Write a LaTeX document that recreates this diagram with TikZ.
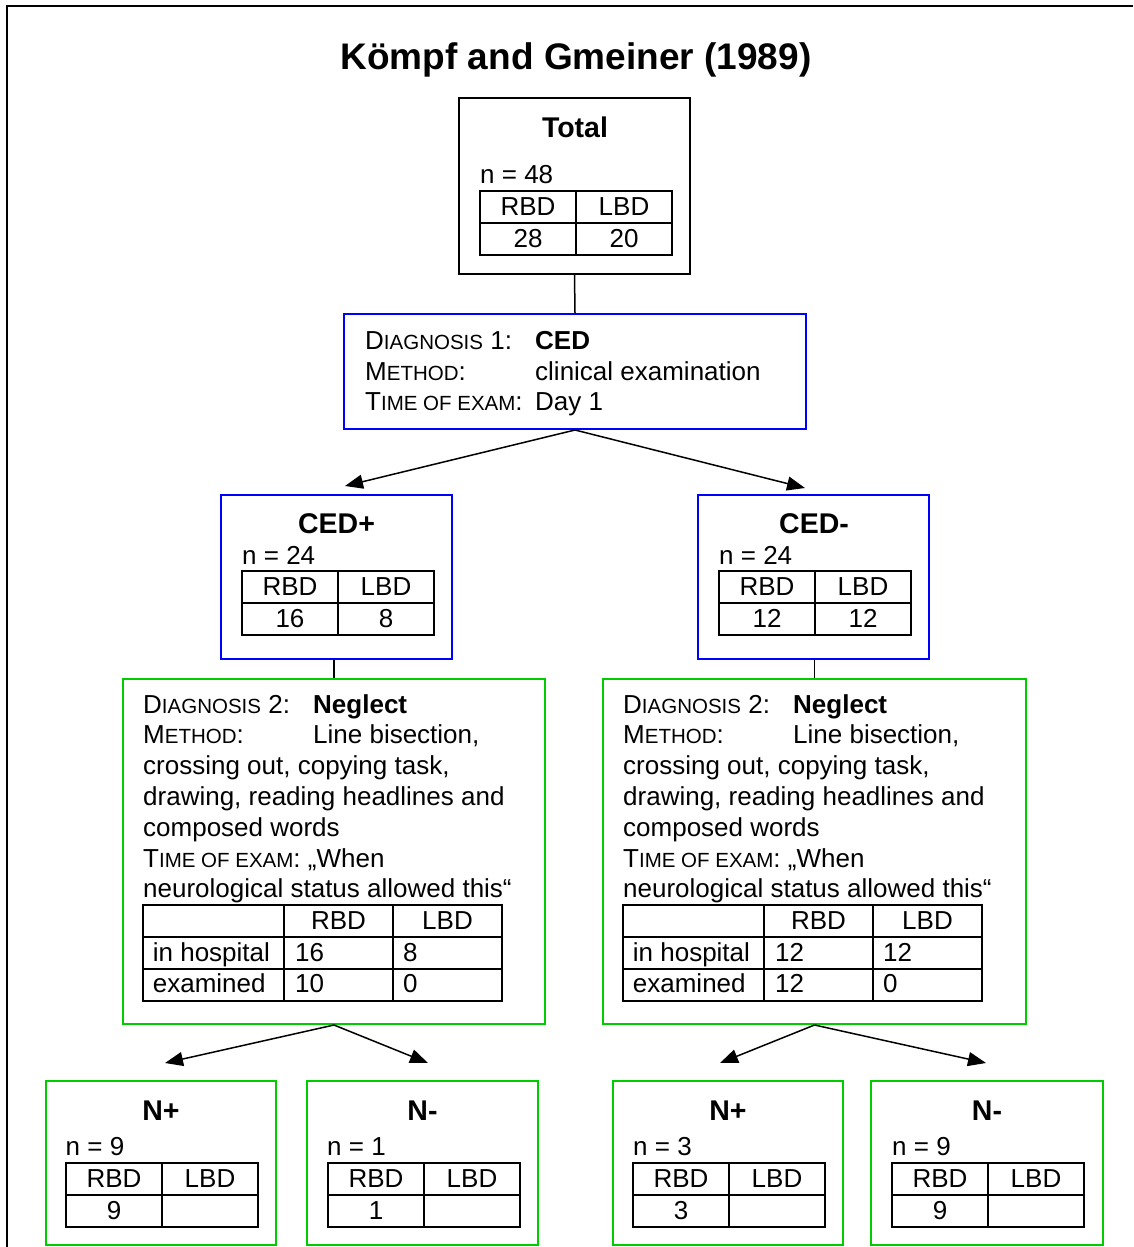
\documentclass[tikz,border=0pt]{standalone}
\usepackage{fontspec}
\setmainfont{Liberation Sans}
\usetikzlibrary{arrows.meta}
\definecolor{boxblue}{HTML}{0000FF}
\definecolor{boxgreen}{HTML}{00CC00}
\newcommand{\capsm}[1]{{\fontsize{20.5}{24}\selectfont #1}}
% two-column RBD/LBD table: name, left x, top y, RBD value, LBD value
\newcommand{\rltable}[5]{%
  \draw[tabline] (#2,#3) rectangle ++(192,64);
  \draw[tabline] (#2+96,#3) -- ++(0,64) (#2,#3+32) -- ++(192,0);
  \node[cell] (#1-r)  at (#2+48,#3+24)  {RBD};
  \node[cell] (#1-l)  at (#2+144,#3+24) {LBD};
  \node[cell] (#1-rv) at (#2+48,#3+56)  {#4};
  \node[cell] (#1-lv) at (#2+144,#3+56) {#5};
}
\tikzset{
  >={Triangle[length=18pt,width=14pt]},
  font=\fontsize{26}{30.8}\selectfont,
  frame/.style={draw=black,line width=1.5pt},
  blackbox/.style={draw=black,line width=2pt,inner sep=0pt},
  bluebox/.style={draw=boxblue,line width=2pt,inner sep=0pt},
  greenbox/.style={draw=boxgreen,line width=2pt,inner sep=0pt},
  head/.style={font=\fontsize{28.5}{32}\selectfont\bfseries,anchor=base,inner sep=0pt},
  txt/.style={anchor=base west,inner sep=0pt},
  cell/.style={anchor=base,inner sep=0pt},
  tabline/.style={draw=black,line width=2pt},
  link/.style={line width=1.5pt,draw=black},
  flow/.style={->,line width=1.5pt,draw=black},
}

\begin{document}
\begin{tikzpicture}[x=1pt,y=-1pt]
  \useasboundingbox (0,0) rectangle (1133,1247);
  \draw[frame] (1133,6) -- (7,6) -- (7,1247);

  \node[font=\fontsize{37}{40}\selectfont\bfseries,anchor=base,inner sep=0pt] (title)
    at (576,70) {Kömpf and Gmeiner (1989)};

  % total
  \node[blackbox,minimum width=231,minimum height=176] (total) at (574.5,186) {};
  \node[head] (total-h) at (575,137) {Total};
  \node[txt] (total-n) at (480,183) {n = 48};
  \rltable{total-t}{480}{191}{28}{20}

  % diagnosis 1
  \node[bluebox,minimum width=462,minimum height=115] (diag1) at (575,371.5) {};
  \node[txt] (diag1-a) at (365,349) {\makebox[170pt][l]{D\capsm{IAGNOSIS} 1:}\textbf{CED}};
  \node[txt] (diag1-b) at (365,380) {\makebox[170pt][l]{M\capsm{ETHOD}:}clinical examination};
  \node[txt] (diag1-c) at (365,410) {\makebox[170pt][l]{T\capsm{IME OF EXAM}:}Day 1};
  \draw[link] (total.south) -- (diag1.north);

  % CED+ / CED-
  \node[bluebox,minimum width=231,minimum height=164] (cedp) at (336.5,577) {};
  \node[head] (cedp-h) at (336.5,533) {CED+};
  \node[txt] (cedp-n) at (242,564) {n = 24};
  \rltable{cedp-t}{242}{571}{16}{8}

  \node[bluebox,minimum width=231,minimum height=164] (cedm) at (813.5,577) {};
  \node[head] (cedm-h) at (814,533) {CED-};
  \node[txt] (cedm-n) at (719,564) {n = 24};
  \rltable{cedm-t}{719}{571}{12}{12}

  \coordinate (cedp-in) at (345,486);
  \coordinate (cedm-in) at (805,488);
  \draw[flow] (diag1.south) -- (cedp-in);
  \draw[flow] (diag1.south) -- (cedm-in);

  % diagnosis 2, left
  \node[greenbox,minimum width=422,minimum height=345] (diag2l) at (334,851.5) {};
  \node[txt,align=left] (diag2l-txt) at (143,897.8)
    {\makebox[170pt][l]{D\capsm{IAGNOSIS} 2:}\textbf{Neglect}\\
     \makebox[170pt][l]{M\capsm{ETHOD}:}Line bisection,\\
     crossing out, copying task,\\
     drawing, reading headlines and\\
     composed words\\
     T\capsm{IME OF EXAM}: „When\\
     neurological status allowed this“};
  \draw[tabline] (143,905) rectangle (502,1001);
  \draw[tabline] (143,937) -- (502,937) (143,969) -- (502,969)
                 (284,905) -- (284,1001) (393,905) -- (393,1001);
  \node[cell] (diag2l-r) at (338.5,929.3) {RBD};
  \node[cell] (diag2l-l) at (447.5,929.3) {LBD};
  \node[txt] (diag2l-h)  at (152.7,961) {in hospital};
  \node[txt] (diag2l-hr) at (295,961) {16};
  \node[txt] (diag2l-hl) at (403,961) {8};
  \node[txt] (diag2l-e)  at (152.7,992.7) {examined};
  \node[txt] (diag2l-er) at (295,992.7) {10};
  \node[txt] (diag2l-el) at (403,992.7) {0};
  \draw[link] (diag2l.north |- cedp.south) -- (diag2l.north);

  % diagnosis 2, right
  \node[greenbox,minimum width=423,minimum height=345] (diag2r) at (814.5,851.5) {};
  \node[txt,align=left] (diag2r-txt) at (623,897.8)
    {\makebox[170pt][l]{D\capsm{IAGNOSIS} 2:}\textbf{Neglect}\\
     \makebox[170pt][l]{M\capsm{ETHOD}:}Line bisection,\\
     crossing out, copying task,\\
     drawing, reading headlines and\\
     composed words\\
     T\capsm{IME OF EXAM}: „When\\
     neurological status allowed this“};
  \draw[tabline] (623,905) rectangle (982,1001);
  \draw[tabline] (623,937) -- (982,937) (623,969) -- (982,969)
                 (764,905) -- (764,1001) (873,905) -- (873,1001);
  \node[cell] (diag2r-r) at (818.5,929.3) {RBD};
  \node[cell] (diag2r-l) at (927.5,929.3) {LBD};
  \node[txt] (diag2r-h)  at (632.7,961) {in hospital};
  \node[txt] (diag2r-hr) at (775,961) {12};
  \node[txt] (diag2r-hl) at (883,961) {12};
  \node[txt] (diag2r-e)  at (632.7,992.7) {examined};
  \node[txt] (diag2r-er) at (775,992.7) {12};
  \node[txt] (diag2r-el) at (883,992.7) {0};
  \draw[link] (diag2r.north |- cedm.south) -- (diag2r.north);

  % N+ / N- outcomes
  \node[greenbox,minimum width=230,minimum height=164] (np1) at (161,1163) {};
  \node[head] (np1-h) at (161,1120) {N+};
  \node[txt] (np1-n) at (65.5,1155) {n = 9};
  \rltable{np1-t}{66}{1163}{9}{}

  \node[greenbox,minimum width=231,minimum height=164] (nm1) at (422.5,1163) {};
  \node[head] (nm1-h) at (422.5,1120) {N-};
  \node[txt] (nm1-n) at (327,1155) {n = 1};
  \rltable{nm1-t}{328}{1163}{1}{}

  \node[greenbox,minimum width=230,minimum height=164] (np2) at (728,1163) {};
  \node[head] (np2-h) at (728,1120) {N+};
  \node[txt] (np2-n) at (633,1155) {n = 3};
  \rltable{np2-t}{633}{1163}{3}{}

  \node[greenbox,minimum width=232,minimum height=164] (nm2) at (987,1163) {};
  \node[head] (nm2-h) at (987,1120) {N-};
  \node[txt] (nm2-n) at (892,1155) {n = 9};
  \rltable{nm2-t}{892}{1163}{9}{}

  \coordinate (np1-in) at (165,1063);
  \coordinate (nm1-in) at (428,1063);
  \coordinate (np2-in) at (720,1063);
  \coordinate (nm2-in) at (986,1063);
  \draw[flow] (diag2l.south) -- (np1-in);
  \draw[flow] (diag2l.south) -- (nm1-in);
  \draw[flow] (diag2r.south) -- (np2-in);
  \draw[flow] (diag2r.south) -- (nm2-in);
\end{tikzpicture}
\end{document}
